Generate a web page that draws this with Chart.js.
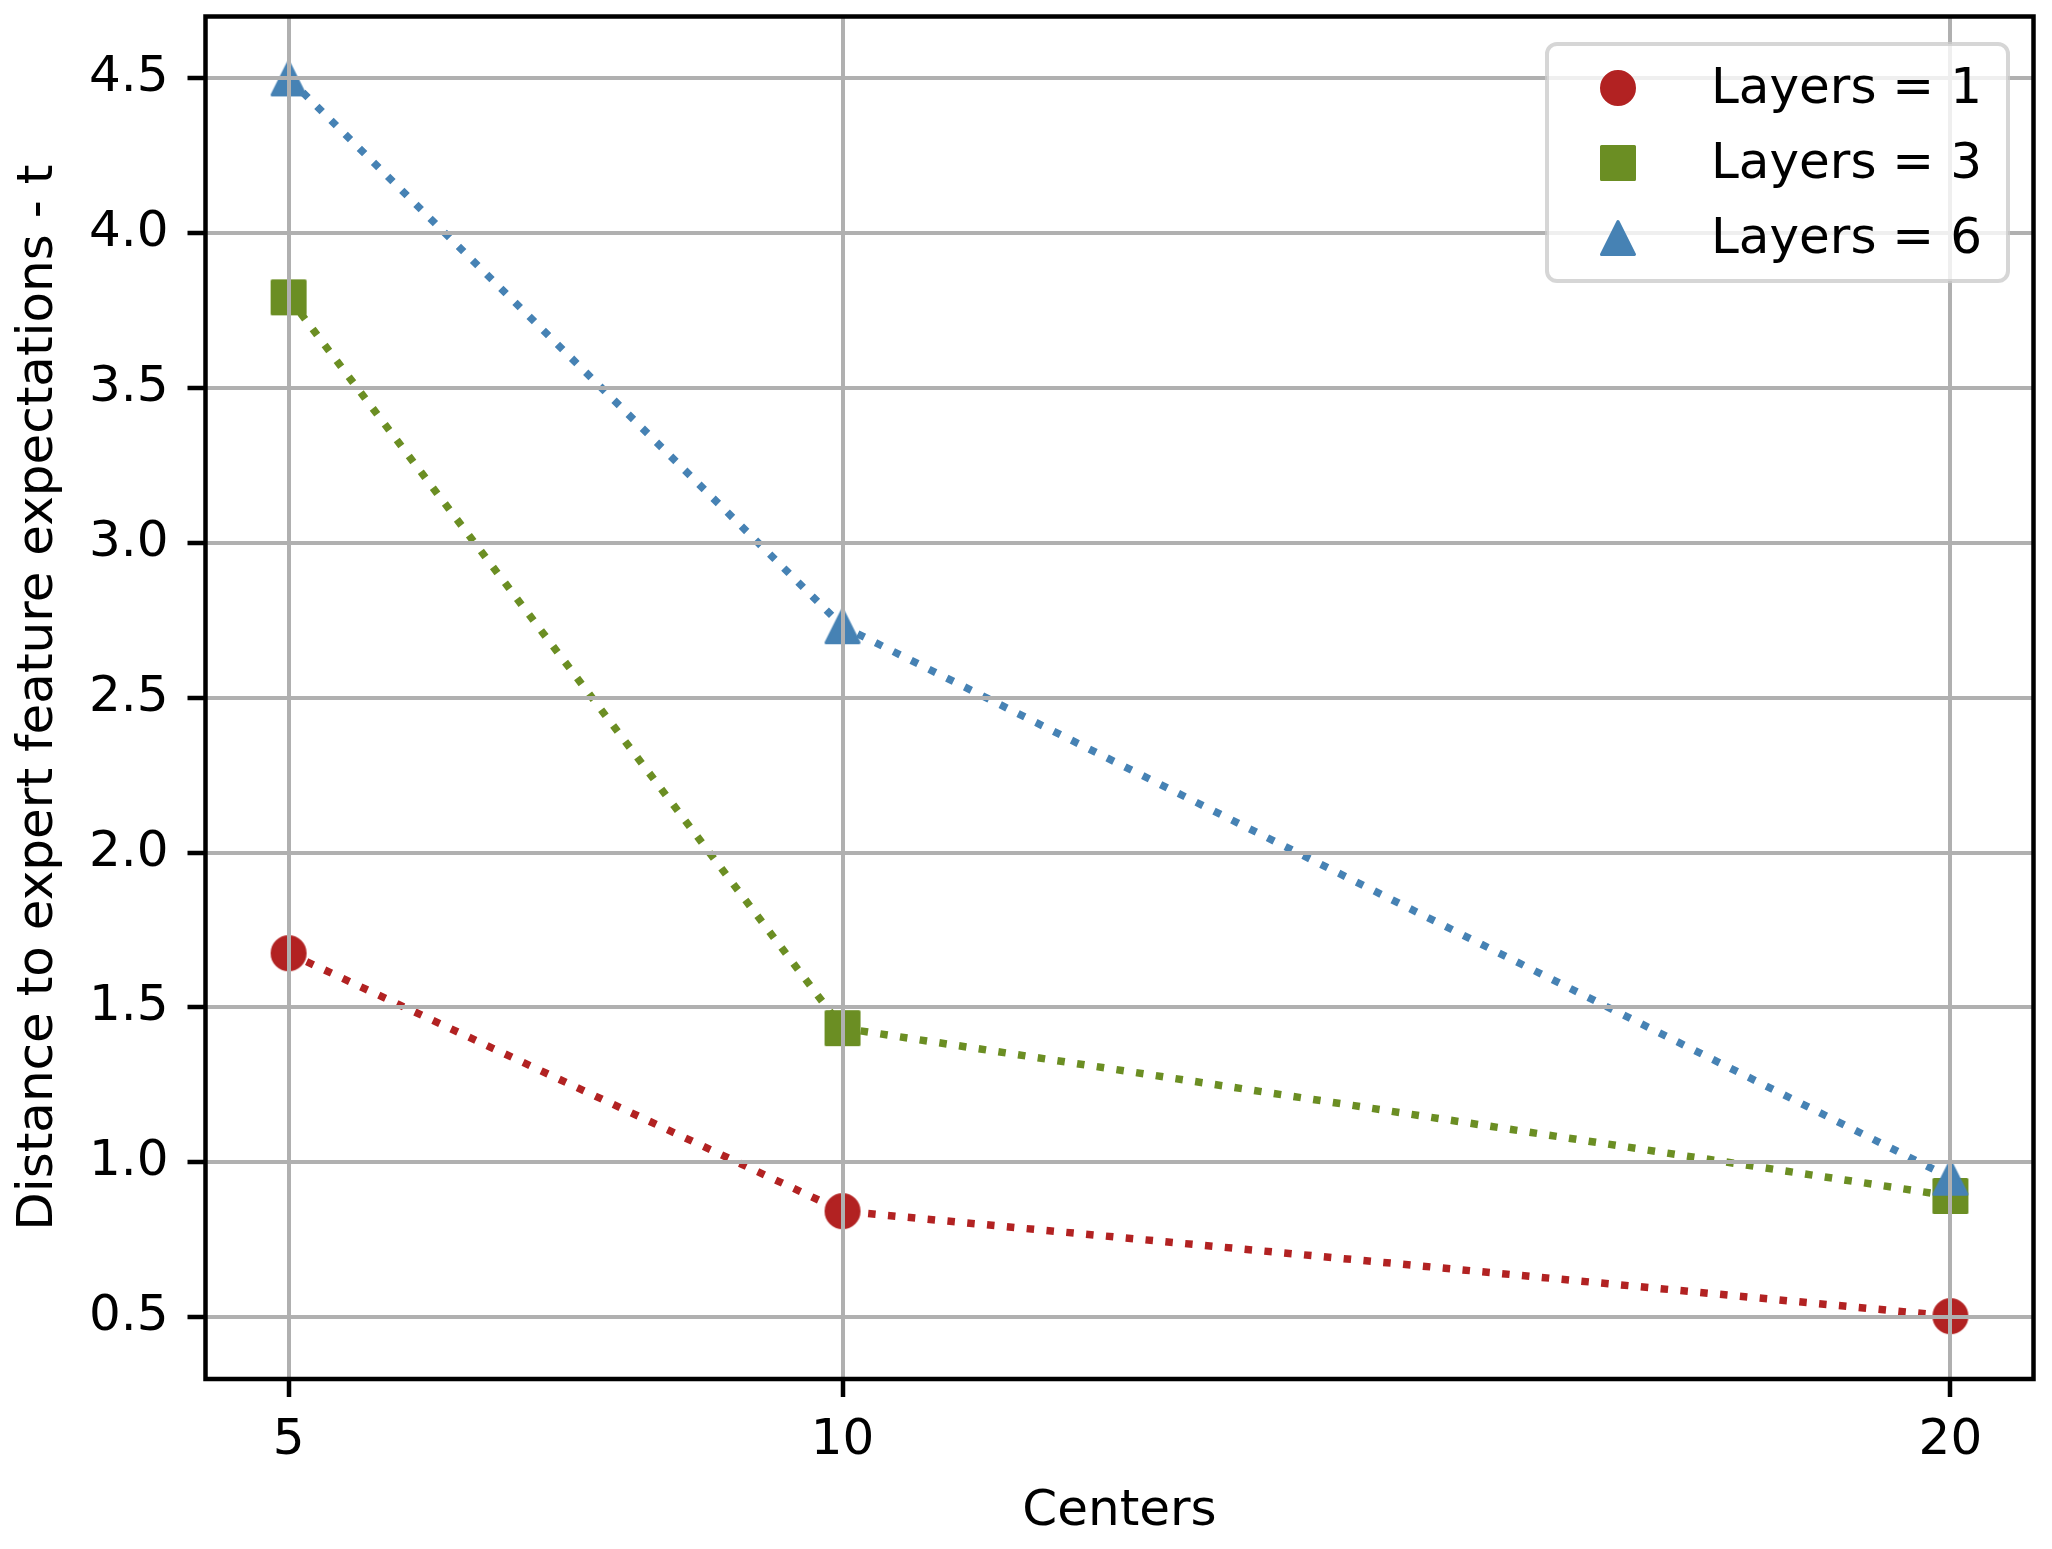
<!DOCTYPE html>
<html>
<head>
<meta charset="utf-8">
<script src="https://cdn.jsdelivr.net/npm/chart.js@4"></script>
<style>
  html, body { margin: 0; padding: 0; background: #fff; }
  #chart { display: block; }
</style>
</head>
<body>
<canvas id="chart" width="2052" height="1549"></canvas>
<script>
const centers = [5, 10, 20];
const layers1 = [1.675, 0.842, 0.503];
const layers3 = [3.793, 1.433, 0.891];
const layers6 = [4.5, 2.731, 0.95];
const seriesLabels = ['Layers = 1', 'Layers = 3', 'Layers = 6'];
const xTicks = [5, 10, 20];
const yTicks = [0.5, 1.0, 1.5, 2.0, 2.5, 3.0, 3.5, 4.0, 4.5];

const colors = ['#b22222', '#6b8e23', '#4682b4'];
const FONT = "'DejaVu Sans', sans-serif";

// matplotlib style markers (o, s, ^) drawn into small canvases
function makeMarker(shape, color) {
    const s = 44, m = s / 2, h = 16.5;
    const c = document.createElement('canvas');
    c.width = s;
    c.height = s;
    const g = c.getContext('2d');
    g.fillStyle = color;
    g.strokeStyle = color;
    g.lineWidth = 3;
    g.lineJoin = 'round';
    g.beginPath();
    if (shape === 'circle') {
        g.arc(m, m, h, 0, Math.PI * 2);
    } else if (shape === 'square') {
        g.rect(m - h, m - h, 2 * h, 2 * h);
    } else {
        g.moveTo(m, m - h);
        g.lineTo(m + h, m + h);
        g.lineTo(m - h, m + h);
        g.closePath();
    }
    g.fill();
    g.stroke();
    return c;
}

const markers = [
    makeMarker('circle', colors[0]),
    makeMarker('square', colors[1]),
    makeMarker('triangle', colors[2])
];

function toPoints(ys) {
    return centers.map((x, i) => ({ x: x, y: ys[i] }));
}

// spines + legend box in the upper right
const frameAndLegend = {
    id: 'frameAndLegend',
    afterDraw(chart) {
        const ctx = chart.ctx;
        const a = chart.chartArea;
        ctx.save();
        ctx.strokeStyle = '#000';
        ctx.lineWidth = 4.5;
        ctx.strokeRect(a.left, a.top, a.right - a.left, a.bottom - a.top);

        const x1 = a.right - 25.5, y0 = a.top + 27.5;
        const x0 = x1 - 461, y1 = y0 + 237;
        ctx.beginPath();
        ctx.roundRect(x0, y0, x1 - x0, y1 - y0, 10);
        ctx.fillStyle = 'rgba(255,255,255,0.8)';
        ctx.fill();
        ctx.strokeStyle = 'rgba(204,204,204,0.8)';
        ctx.lineWidth = 4;
        ctx.stroke();

        ctx.font = '50px ' + FONT;
        ctx.fillStyle = '#000';
        ctx.textBaseline = 'alphabetic';
        chart.data.datasets.forEach((ds, i) => {
            const cy = y0 + 44 + i * 75;
            const img = ds.pointStyle;
            ctx.drawImage(img, x0 + 71 - img.width / 2, cy - img.height / 2);
            ctx.fillText(ds.label, x0 + 164, cy + 15);
        });
        ctx.restore();
    }
};

const seriesValues = [layers1, layers3, layers6];

new Chart(document.getElementById('chart').getContext('2d'), {
    type: 'line',
    data: {
        datasets: seriesValues.map((ys, i) => ({
            label: seriesLabels[i],
            data: toPoints(ys),
            borderColor: colors[i],
            backgroundColor: colors[i],
            borderWidth: 7.5,
            borderDash: [7.5, 12.4],
            borderCapStyle: 'butt',
            pointStyle: markers[i],
            pointRadius: 18,
            pointHoverRadius: 18,
            tension: 0,
            order: 3 - i
        }))
    },
    options: {
        responsive: false,
        animation: false,
        devicePixelRatio: 1,
        layout: {
            autoPadding: false,
            padding: { left: 0, top: 16.5, right: 18.5, bottom: 0 }
        },
        plugins: {
            legend: { display: false },
            tooltip: { enabled: false }
        },
        scales: {
            x: {
                type: 'linear',
                min: 4.25,
                max: 20.75,
                afterBuildTicks: s => { s.ticks = xTicks.map(v => ({ value: v })); },
                afterFit: s => {
                    s.height = 170;
                    s.paddingLeft = 0;
                    s.paddingRight = 0;
                },
                ticks: {
                    font: { family: FONT, size: 50 },
                    color: '#000',
                    padding: 14,
                    maxRotation: 0,
                    autoSkip: false,
                    callback: v => String(v)
                },
                grid: {
                    color: '#b0b0b0',
                    lineWidth: 4,
                    z: 1,
                    tickColor: '#000',
                    tickWidth: 4.5,
                    tickLength: 18
                },
                border: { display: false },
                title: {
                    display: true,
                    text: 'Centers',
                    color: '#000',
                    font: { family: FONT, size: 50 },
                    padding: { top: 0, bottom: 6.5 }
                }
            },
            y: {
                type: 'linear',
                min: 0.3,
                max: 4.7,
                afterBuildTicks: s => { s.ticks = yTicks.map(v => ({ value: v })); },
                afterFit: s => {
                    s.width = 205.5;
                    s.paddingTop = 0;
                    s.paddingBottom = 0;
                },
                ticks: {
                    font: { family: FONT, size: 50 },
                    color: '#000',
                    padding: 19,
                    autoSkip: false,
                    callback: v => v.toFixed(1)
                },
                grid: {
                    color: '#b0b0b0',
                    lineWidth: 4,
                    z: 1,
                    tickColor: '#000',
                    tickWidth: 4.5,
                    tickLength: 18
                },
                border: { display: false },
                title: {
                    display: true,
                    text: 'Distance to expert feature expectations - t',
                    color: '#000',
                    font: { family: FONT, size: 50 },
                    padding: { top: 9.5, bottom: 0 }
                }
            }
        }
    },
    plugins: [frameAndLegend]
});
</script>
</body>
</html>
